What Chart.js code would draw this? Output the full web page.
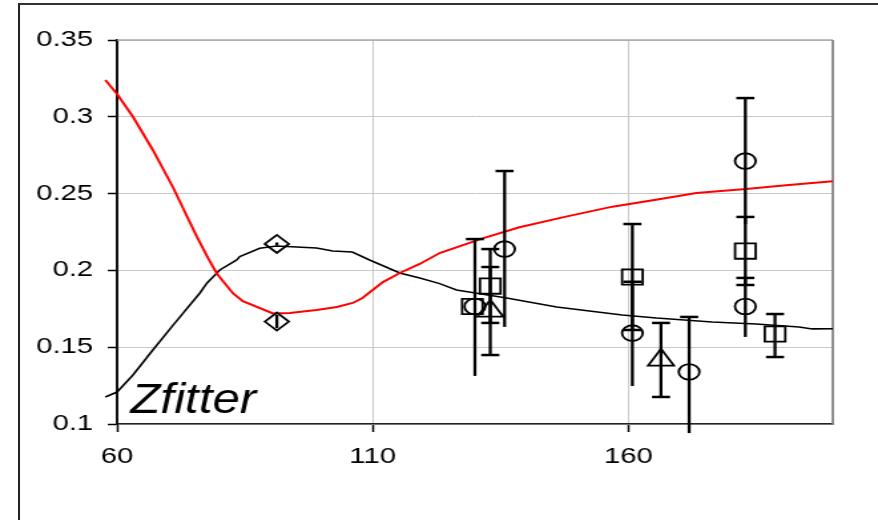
<!DOCTYPE html>
<html>
<head>
<meta charset="utf-8">
<script src="https://cdn.jsdelivr.net/npm/chart.js@4.4.1/dist/chart.umd.min.js"></script>
<style>
  html, body { margin: 0; padding: 0; background: #fff; overflow: hidden; }
  #frame { position: absolute; left: 18px; top: 3px; width: 900px; height: 560px;
           border-top: 2px solid #333; border-left: 2px solid #222; }
  /* the sheet was drawn narrow and is shown stretched sideways */
  #wrap { position: absolute; left: 0; top: 0; width: 660px; height: 520px;
          transform: scaleX(1.3303); transform-origin: 0 0; }
</style>
</head>
<body>
<div id="frame"></div>
<div id="wrap"><canvas id="chart" width="660" height="520"></canvas></div>
<script>
// axis ticks
const xTickValues = [60, 110, 160];
const xTickLabels = ['60', '110', '160'];
const yTickValues = [0.1, 0.15, 0.2, 0.25, 0.3, 0.35];
const yTickLabels = ['0.1', '0.15', '0.2', '0.25', '0.3', '0.35'];

// fit curves (red and black)
const redX = [57.7, 60, 63.1, 67, 70.9, 75.6, 77.8, 79.5, 82.7, 84.6, 90.5, 93.8, 99, 103, 106.1, 108, 112, 115.3, 119.2, 123.1, 131.5, 138.7, 147.8, 156.9, 166, 173.3, 183, 191.4, 200];
const redY = [0.324, 0.3148, 0.300, 0.2784, 0.2543, 0.222, 0.208, 0.198, 0.185, 0.180, 0.172, 0.1722, 0.1742, 0.1762, 0.1788, 0.182, 0.1924, 0.1983, 0.2042, 0.2113, 0.2209, 0.2281, 0.235, 0.2415, 0.2463, 0.2504, 0.253, 0.2556, 0.258];
const blackX = [57.7, 60, 63.1, 67, 71, 76.2, 77.6, 80.1, 83.4, 84, 87.9, 91.2, 99, 102.2, 106, 109.4, 115.3, 119.2, 123.1, 126.4, 136.2, 146, 152.4, 158.8, 165.5, 176.4, 185, 193.4, 196, 200];
const blackY = [0.1176, 0.1208, 0.1319, 0.1482, 0.1645, 0.1853, 0.1918, 0.2003, 0.2068, 0.209, 0.2144, 0.2159, 0.2146, 0.2126, 0.212, 0.2068, 0.1983, 0.195, 0.1914, 0.1872, 0.182, 0.1762, 0.1736, 0.171, 0.169, 0.1664, 0.1651, 0.1632, 0.1619, 0.162];

// measurements with error bars
const diamondX = [91.25, 91.25];
const diamondY = [0.2172, 0.1667];
const diamondHi = [0.2182, 0.171];
const diamondLo = [0.2162, 0.1624];

const circleX = [130.0, 135.8, 160.8, 171.9, 182.9, 182.9];
const circleY = [0.1765, 0.2139, 0.1592, 0.1339, 0.2712, 0.1765];
const circleHi = [0.2204, 0.2647, 0.1926, 0.1697, 0.3122, 0.1951];
const circleLo = [0.1313, 0.1632, 0.1247, 0.0941, 0.2302, 0.1567];

const squareX = [129.5, 133.0, 160.8, 182.9, 188.7];
const squareY = [0.1765, 0.1898, 0.1957, 0.2126, 0.1586];
const squareHi = [null, 0.2139, 0.2302, 0.2348, 0.1716];
const squareLo = [null, 0.1658, 0.1612, 0.1905, 0.1436];

const triangleX = [133.0, 166.4];
const triangleY = [0.1736, 0.1417];
const triangleHi = [0.2022, 0.1658];
const triangleLo = [0.1449, 0.1176];

const pts = (xs, ys) => xs.map((x, i) => ({ x, y: ys[i] }));
const FONT = "'Liberation Sans', Arial, sans-serif";

function curve(xs, ys, color, width) {
  return {
    type: 'line', data: pts(xs, ys), showLine: true,
    borderColor: color, borderWidth: width, pointRadius: 0,
    tension: 0, clip: false, fill: false,
  };
}

function marks(xs, ys, hi, lo, style, radius, caps) {
  return {
    type: 'scatter', data: pts(xs, ys),
    pointStyle: style, pointRadius: radius,
    pointBorderColor: '#000', pointBorderWidth: 1.8,
    pointBackgroundColor: 'rgba(0,0,0,0)',
    errHi: hi, errLo: lo, caps: caps,
  };
}

// vertical error bars, drawn on top of markers through the chart's scales
const errorBars = {
  id: 'errorBars',
  afterDatasetsDraw(chart) {
    const { ctx, scales: { x, y } } = chart;
    ctx.save();
    ctx.strokeStyle = '#000';
    chart.data.datasets.forEach(ds => {
      if (!ds.errHi) return;
      ds.data.forEach((p, i) => {
        if (ds.errHi[i] == null) return;
        const px = x.getPixelForValue(p.x);
        const top = y.getPixelForValue(ds.errHi[i]);
        const bot = y.getPixelForValue(ds.errLo[i]);
        ctx.lineWidth = 2.3;
        ctx.beginPath();
        ctx.moveTo(px, top);
        ctx.lineTo(px, bot);
        ctx.stroke();
        ctx.lineWidth = 2.5;
        const half = 6.8;
        if (ds.caps.top) {
          ctx.beginPath(); ctx.moveTo(px - half, top); ctx.lineTo(px + half, top); ctx.stroke();
        }
        if (ds.caps.bottom) {
          ctx.beginPath(); ctx.moveTo(px - half, bot); ctx.lineTo(px + half, bot); ctx.stroke();
        }
      });
    });
    ctx.restore();
  }
};

// plot frame on top and right, plus the Zfitter caption
const frame = {
  id: 'frame',
  beforeDatasetsDraw(chart) {
    const { ctx, chartArea: a } = chart;
    ctx.save();
    ctx.strokeStyle = '#a8a8a8';
    ctx.lineWidth = 1.5;
    ctx.beginPath(); ctx.moveTo(a.left, a.top); ctx.lineTo(a.right, a.top); ctx.stroke();
    ctx.strokeStyle = '#858585';
    ctx.lineWidth = 1.8;
    ctx.beginPath(); ctx.moveTo(a.right, a.top); ctx.lineTo(a.right, a.bottom); ctx.stroke();
    ctx.restore();
  },
  afterDraw(chart) {
    const { ctx, chartArea: a } = chart;
    ctx.save();
    ctx.fillStyle = '#000';
    ctx.font = "italic 37px " + FONT;
    ctx.textBaseline = 'alphabetic';
    ctx.translate(a.left + 10, a.bottom - 11);
    ctx.scale(1, 1.13);
    ctx.fillText('Zfitter', 0, 0);
    ctx.restore();
  }
};

new Chart(document.getElementById('chart'), {
  type: 'scatter',
  data: {
    datasets: [
      marks(circleX, circleY, circleHi, circleLo, 'circle', 7.8, { top: true, bottom: false }),
      marks(squareX, squareY, squareHi, squareLo, 'rect', 10.9, { top: true, bottom: true }),
      marks(triangleX, triangleY, triangleHi, triangleLo, 'triangle', 11.2, { top: true, bottom: true }),
      marks(diamondX, diamondY, diamondHi, diamondLo, 'rectRot', 9, { top: false, bottom: false }),
      curve(redX, redY, '#ff0000', 2),
      curve(blackX, blackY, '#000000', 1.6),
    ]
  },
  options: {
    responsive: false,
    animation: false,
    events: [],
    layout: { padding: { left: 0, top: 40, right: 34, bottom: 0 } },
    plugins: { legend: { display: false }, tooltip: { enabled: false } },
    scales: {
      x: {
        type: 'linear', position: 'bottom', min: 60, max: 200,
        afterBuildTicks: s => { s.ticks = xTickValues.map(v => ({ value: v })); },
        afterFit: s => { s.height = 96; },
        ticks: {
          callback: v => xTickLabels[xTickValues.indexOf(v)],
          font: { family: FONT, size: 22 }, color: '#000', padding: 12, maxRotation: 0,
        },
        grid: { color: '#c8c8c8', lineWidth: 1, tickLength: 8, tickColor: '#000', tickWidth: 1.5 },
        border: { color: '#222', width: 1.5 },
      },
      y: {
        type: 'linear', position: 'left', min: 0.1, max: 0.35,
        afterBuildTicks: s => { s.ticks = yTickValues.map(v => ({ value: v })); },
        afterFit: s => { s.width = 88; },
        ticks: {
          callback: v => yTickLabels[yTickValues.indexOf(v)],
          font: { family: FONT, size: 22 }, color: '#000', padding: 11,
        },
        grid: { color: '#c8c8c8', lineWidth: 1, tickLength: 7, tickColor: '#000', tickWidth: 1.5 },
        border: { color: '#111', width: 2 },
      }
    }
  },
  plugins: [frame, errorBars]
});
</script>
</body>
</html>
